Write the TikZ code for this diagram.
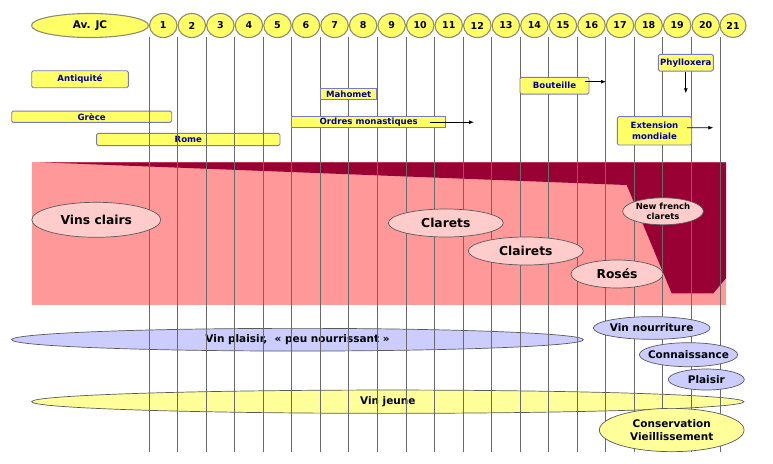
\documentclass[tikz,border=0pt]{standalone}
\usepackage{fontspec}
\setmainfont{DejaVu Sans}
\usetikzlibrary{shapes.geometric,arrows.meta}
\definecolor{yel}{HTML}{FFFF66}
\definecolor{yelpale}{HTML}{FFFF99}
\definecolor{boxline}{HTML}{7777CC}
\definecolor{boxtext}{HTML}{000099}
\definecolor{pinkbg}{HTML}{FF9999}
\definecolor{wine}{HTML}{990033}
\definecolor{pinkell}{HTML}{FFCCCC}
\definecolor{lilac}{HTML}{CCCCFF}
\definecolor{olivegray}{HTML}{8C8C70}
\definecolor{vlinecol}{HTML}{6A6A6A}
\tikzset{
  cent/.style={ellipse, fill=yel, draw=olivegray, line width=1.1pt, inner sep=0pt,
    minimum height=24pt, font=\bfseries\fontsize{9.5}{10}\selectfont},
  evbox/.style={rectangle, rounded corners=1.5pt, fill=yel, draw=boxline, line width=0.9pt,
    inner sep=0pt, text=boxtext, align=center, font=\bfseries\fontsize{8.6}{11}\selectfont},
  vl/.style={draw=vlinecol, line width=0.9pt},
  evarrow/.style={-{Latex[length=5pt,width=4pt]}, line width=0.8pt, black},
  ell/.style={ellipse, draw=black!65, line width=0.7pt, inner sep=0pt},
  biglab/.style={font=\bfseries\fontsize{12.3}{13}\selectfont, align=center},
  midlab/.style={font=\bfseries\fontsize{10.5}{13}\selectfont, align=center},
  smalllab/.style={font=\bfseries\fontsize{8.5}{10.5}\selectfont, align=center},
}
\begin{document}
\begin{tikzpicture}[x=1pt,y=-1pt]
\useasboundingbox (0,0) rectangle (773,463);
% wine band
\fill[pinkbg] (31.7,162.3) rectangle (726,305);
\fill[wine] (40,162.3) -- (726,162.3) -- (726,278.3) -- (713.3,293.3) -- (671.7,293.3) -- (626.7,185) -- cycle;
% event boxes under the grid lines
\node[evbox, minimum width=160pt, minimum height=11.3pt] (grece) at (91.7,116.7) {Grèce};
\node[evbox, minimum width=183.3pt, minimum height=12.3pt] (rome) at (188.3,139.5) {Rome};
% long ellipses (below the grid lines)
\node[ell, fill=lilac, minimum width=571.7pt, minimum height=22.7pt] (plaisirlong) at (297.5,339.7) {};
\node[ell, fill=yelpale, minimum width=712.3pt, minimum height=23.3pt] (jeune) at (387.8,401.7) {};
\node[midlab] (plaisirlongt) at (plaisirlong) {Vin plaisir,\ \ « peu nourrissant »};
\node[midlab] (jeunet) at (jeune) {Vin jeune};
% grid lines
\foreach \k in {0,...,20} {
  \draw[vl] ({149+\k*28.55},37) -- ({149+\k*28.55},452);
}
% event boxes over the grid lines
\node[evbox, minimum width=96.6pt, minimum height=17pt] (antiq) at (80,79.2) {Antiquité};
\node[evbox, rounded corners=0pt, minimum width=56pt, minimum height=11pt] (mahomet) at (348.7,93.8) {Mahomet};
\node[evbox, rounded corners=0pt, minimum width=154pt, minimum height=11pt] (ordres) at (368.7,122.2) {Ordres monastiques};
\node[evbox, minimum width=69pt, minimum height=16.7pt] (bout) at (554.5,85.7) {Bouteille};
\node[evbox, minimum width=55pt, minimum height=16.7pt] (phyl) at (685.8,62.7) {Phylloxera};
\node[evbox, minimum width=74.4pt, minimum height=28.3pt] (ext) at (654.5,130.8) {Extension\\mondiale};
% century heads
\node[cent, minimum width=117pt, font=\bfseries\fontsize{10.5}{11}\selectfont] (avjc) at (90,25.5) {Av. JC};
\foreach \k in {1,...,20} {
  \node[cent, minimum width=27.5pt] (c\k) at ({149+(\k-0.5)*28.55},25.5) {\k};
}
\node[cent, minimum width=26pt] (c21) at (733,25.5) {21};
% wine ellipses
\node[ell, fill=pinkell, minimum width=129pt, minimum height=35pt] (vinsclairs) at (96.3,219.8) {};
\node[ell, fill=pinkell, minimum width=115pt, minimum height=28pt] (clarets) at (445.8,223) {};
\node[ell, fill=pinkell, minimum width=115pt, minimum height=28pt] (clairets) at (525.8,251) {};
\node[ell, fill=pinkell, minimum width=92pt, minimum height=28pt] (roses) at (617,274) {};
\node[ell, fill=pinkell, minimum width=80.7pt, minimum height=27pt] (nfc) at (663,211.3) {};
\node[biglab] (vinsclairst) at (vinsclairs) {Vins clairs};
\node[biglab] (claretst) at (clarets) {Clarets};
\node[biglab] (clairetst) at (clairets) {Clairets};
\node[biglab] (rosest) at (roses) {Rosés};
\node[smalllab] (nfct) at (nfc) {New french\\clarets};
% right-hand ellipses
\node[ell, fill=lilac, minimum width=116.7pt, minimum height=22.7pt] (nourr) at (651.7,328) {};
\node[ell, fill=lilac, minimum width=98.3pt, minimum height=24pt] (conn) at (688.5,354.7) {};
\node[ell, fill=lilac, minimum width=76pt, minimum height=21pt] (plaisir) at (706.3,379.5) {};
\node[ell, fill=yelpale, minimum width=144.7pt, minimum height=43.3pt] (cons) at (671.7,430) {};
\node[midlab] (nourrt) at (nourr) {Vin nourriture};
\node[midlab] (connt) at (conn) {Connaissance};
\node[midlab] (plaisirt) at (plaisir) {Plaisir};
\node[midlab] (const) at (cons) {Conservation\\Vieillissement};
% arrows
\coordinate (ordresEnd) at (474,122.2);
\coordinate (boutEnd) at (606,81.7);
\coordinate (phylEnd) at (685.8,93.3);
\coordinate (extEnd) at (713.3,127.7);
\draw[evarrow] ([xshift=-15.7pt]ordres.east) -- (ordresEnd);
\draw[evarrow] ([xshift=-4pt,yshift=4pt]bout.east) -- (boutEnd);
\draw[evarrow] (phyl.south) -- (phylEnd);
\draw[evarrow] ([xshift=-5pt,yshift=3pt]ext.east) -- (extEnd);
\end{tikzpicture}
\end{document}
